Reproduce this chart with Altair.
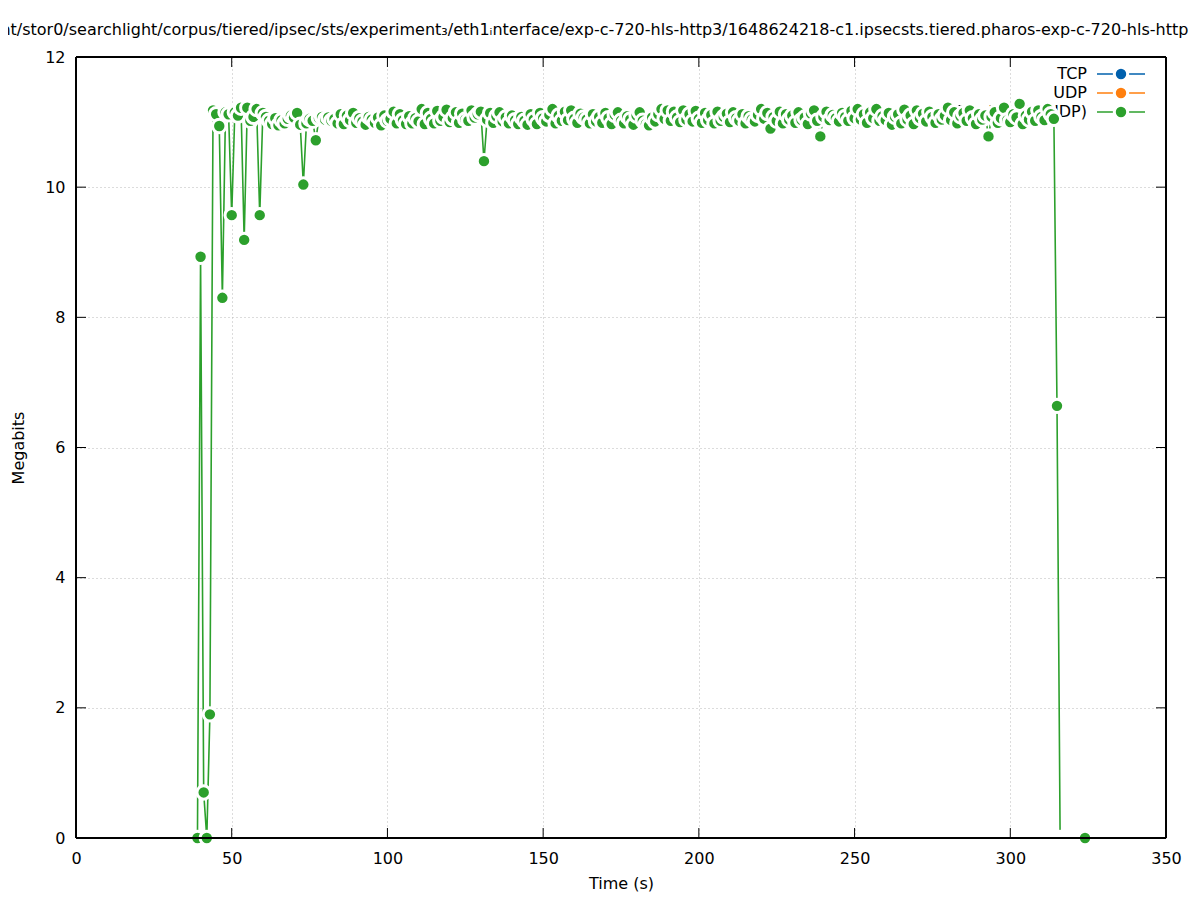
import altair as alt
import pandas as pd

# ---- data ----
time_s = [
    39, 40, 41, 42, 43, 44, 45, 46, 47, 48, 49,
    50, 51, 52, 53, 54, 55, 56, 57, 58, 59,
    60, 61, 62, 63, 64, 65, 66, 67, 68, 69,
    70, 71, 72, 73, 74, 75, 76, 77, 78, 79,
    80, 81, 82, 83, 84, 85, 86, 87, 88, 89,
    90, 91, 92, 93, 94, 95, 96, 97, 98, 99,
    100, 101, 102, 103, 104, 105, 106, 107, 108, 109,
    110, 111, 112, 113, 114, 115, 116, 117, 118, 119,
    120, 121, 122, 123, 124, 125, 126, 127, 128, 129,
    130, 131, 132, 133, 134, 135, 136, 137, 138, 139,
    140, 141, 142, 143, 144, 145, 146, 147, 148, 149,
    150, 151, 152, 153, 154, 155, 156, 157, 158, 159,
    160, 161, 162, 163, 164, 165, 166, 167, 168, 169,
    170, 171, 172, 173, 174, 175, 176, 177, 178, 179,
    180, 181, 182, 183, 184, 185, 186, 187, 188, 189,
    190, 191, 192, 193, 194, 195, 196, 197, 198, 199,
    200, 201, 202, 203, 204, 205, 206, 207, 208, 209,
    210, 211, 212, 213, 214, 215, 216, 217, 218, 219,
    220, 221, 222, 223, 224, 225, 226, 227, 228, 229,
    230, 231, 232, 233, 234, 235, 236, 237, 238, 239,
    240, 241, 242, 243, 244, 245, 246, 247, 248, 249,
    250, 251, 252, 253, 254, 255, 256, 257, 258, 259,
    260, 261, 262, 263, 264, 265, 266, 267, 268, 269,
    270, 271, 272, 273, 274, 275, 276, 277, 278, 279,
    280, 281, 282, 283, 284, 285, 286, 287, 288, 289,
    290, 291, 292, 293, 294, 295, 296, 297, 298, 299,
    300, 301, 302, 303, 304, 305, 306, 307, 308, 309,
    310, 311, 312, 313, 314, 315, 316, 324,
]
megabits = [
    0.00, 8.93, 0.70, 0.00, 1.90, 11.18, 11.12, 10.94, 8.30, 11.15, 11.12,
    9.57, 11.15, 11.10, 11.22, 9.19, 11.22, 11.02, 11.08, 11.20, 9.57,
    11.14, 11.08, 11.02, 10.97, 11.06, 10.95, 11.03, 10.98, 11.05, 11.10,
    11.07, 11.14, 10.96, 10.04, 10.98, 11.05, 11.02, 10.72, 11.06, 11.08,
    11.04, 11.07, 11.02, 11.05, 10.98, 11.12, 10.97, 11.10, 11.03, 11.14,
    10.99, 11.06, 11.01, 10.96, 11.08, 11.04, 10.99, 11.07, 10.95, 11.10,
    11.02, 11.05, 11.16, 10.98, 11.12, 11.03, 10.97, 11.09, 10.98, 11.06,
    11.01, 11.20, 10.97, 11.14, 11.05, 10.98, 11.17, 11.02, 11.08, 11.19,
    11.00, 11.06, 11.15, 10.99, 11.13, 11.04, 11.02, 11.18, 11.07, 11.12,
    11.16, 10.40, 11.04, 11.14, 10.99, 11.09, 11.15, 11.01, 11.07, 10.98,
    11.10, 11.03, 10.97, 11.08, 11.02, 10.96, 11.12, 11.04, 10.97, 11.14,
    11.06, 11.01, 11.11, 11.20, 10.98, 11.10, 11.02, 11.16, 11.03, 11.18,
    11.05, 10.99, 11.13, 11.07, 11.04, 10.98, 11.12, 11.01, 11.08, 10.99,
    11.14, 11.06, 10.97, 11.11, 11.15, 11.02, 10.98, 11.09, 11.04, 10.96,
    11.10, 11.15, 11.02, 10.97, 10.95, 11.07, 11.01, 11.12, 11.20, 11.05,
    11.18, 11.02, 11.16, 11.07, 11.00, 11.18, 11.04, 11.12, 11.01, 11.17,
    11.05, 10.99, 11.14, 11.03, 11.11, 10.98, 11.16, 11.02, 11.08, 11.13,
    11.00, 11.15, 11.06, 11.02, 11.12, 10.98, 11.09, 11.04, 11.01, 11.11,
    11.20, 11.05, 11.14, 10.90, 11.08, 11.02, 11.16, 10.98, 11.12, 11.04,
    11.10, 10.99, 11.15, 11.03, 11.07, 10.97, 11.13, 11.18, 11.02, 10.78,
    11.08, 11.16, 11.03, 11.11, 11.06, 11.01, 11.14, 11.08, 11.02, 11.17,
    11.06, 11.20, 11.04, 11.12, 10.99, 11.15, 11.06, 11.20, 11.02, 11.09,
    11.03, 11.14, 10.96, 11.08, 11.12, 10.98, 11.19, 11.04, 11.10, 10.97,
    11.18, 11.06, 11.13, 11.01, 11.16, 11.08, 10.99, 11.12, 11.04, 11.10,
    11.22, 11.03, 11.15, 10.98, 11.09, 11.14, 11.02, 11.18, 11.06, 10.97,
    11.12, 11.04, 11.10, 10.78, 11.08, 11.15, 10.99, 11.06, 11.22, 11.03,
    11.00, 11.12, 11.07, 11.28, 10.97, 11.10, 11.04, 11.16, 11.02, 11.18,
    11.08, 11.03, 11.20, 11.12, 11.05, 6.64, 0.00, 0.00,
]
# 1 = a green marker is drawn at the sample, 0 = only the marker's white gap
has_marker = [1] * 277 + [0, 1]

x_ticks = [0, 50, 100, 150, 200, 250, 300, 350]
y_ticks = [0, 2, 4, 6, 8, 10, 12]

legend_labels = ["TCP", "UDP", "Total (TCP+UDP)"]
legend_colors = ["#0060ad", "#ff7f0e", "#2ca02c"]

title_text = ("/mnt/stor0/searchlight/corpus/tiered/ipsec/sts/experiment\u2083/"
              "eth1\u1d62nterface/exp-c-720-hls-http3/1648624218-c1.ipsecsts."
              "tiered.pharos-exp-c-720-hls-http3.pcap")

# ---- layout ----
W, H = 1090, 781
FONT = "DejaVu Sans"
FS = 16
GREEN = legend_colors[2]

df = pd.DataFrame({"t": time_s, "v": megabits, "m": has_marker})
xt = pd.DataFrame({"t": x_ticks})
yt = pd.DataFrame({"v": y_ticks})
leg = pd.DataFrame({
    "label": legend_labels,
    "color": legend_colors,
    "py": [17 + 19 * i for i in range(len(legend_labels))],
})

xscale = alt.Scale(domain=[0, 350], nice=False, zero=False)
yscale = alt.Scale(domain=[0, 12], nice=False, zero=False)

x_axis = alt.Axis(values=x_ticks, title="Time (s)", grid=True, ticks=False,
                  domain=False, labelPadding=12, titlePadding=9,
                  labelFlush=False, format="d")
y_axis = alt.Axis(values=y_ticks, title="Megabits", grid=True, ticks=False,
                  domain=False, labelPadding=11, titlePadding=18,
                  labelFlush=False, format="d")

line = alt.Chart(df).mark_line(color=GREEN, strokeWidth=1.6).encode(
    x=alt.X("t:Q", scale=xscale, axis=x_axis),
    y=alt.Y("v:Q", scale=yscale, axis=y_axis),
    order="t:Q",
)
points = alt.Chart(df).mark_point(
    shape="circle", filled=True, size=180, stroke="white",
    strokeWidth=3, opacity=1,
).encode(
    x=alt.X("t:Q", scale=xscale),
    y=alt.Y("v:Q", scale=yscale),
    fill=alt.condition("datum.m == 1", alt.value(GREEN), alt.value("white")),
    order="t:Q",
)

tick_style = dict(color="black", strokeWidth=1)
ytl = alt.Chart(yt).mark_rule(**tick_style).encode(
    y=alt.Y("v:Q", scale=yscale), x=alt.value(0), x2=alt.value(10))
ytr = alt.Chart(yt).mark_rule(**tick_style).encode(
    y=alt.Y("v:Q", scale=yscale), x=alt.value(W - 10), x2=alt.value(W))
xtb = alt.Chart(xt).mark_rule(**tick_style).encode(
    x=alt.X("t:Q", scale=xscale), y=alt.value(H), y2=alt.value(H - 10))
xtt = alt.Chart(xt).mark_rule(**tick_style).encode(
    x=alt.X("t:Q", scale=xscale), y=alt.value(0), y2=alt.value(10))

# plot border drawn on top of the data (as gnuplot does)
b_top = alt.Chart(xt).mark_rule(**tick_style).encode(
    x=alt.value(0), x2=alt.value(W), y=alt.value(0))
b_bot = alt.Chart(xt).mark_rule(**tick_style).encode(
    x=alt.value(0), x2=alt.value(W), y=alt.value(H))
b_left = alt.Chart(xt).mark_rule(**tick_style).encode(
    y=alt.value(0), y2=alt.value(H), x=alt.value(0))
b_right = alt.Chart(xt).mark_rule(**tick_style).encode(
    y=alt.value(0), y2=alt.value(H), x=alt.value(W))

legend_text = alt.Chart(leg).mark_text(
    align="right", baseline="middle", font=FONT, fontSize=FS, color="black"
).encode(y=alt.Y("py:Q", scale=None), x=alt.value(1011), text="label:N")
legend_l = alt.Chart(leg).mark_rule(strokeWidth=1.6).encode(
    y=alt.Y("py:Q", scale=None), x=alt.value(1021), x2=alt.value(1069),
    color=alt.Color("color:N", scale=None))
legend_p = alt.Chart(leg).mark_point(
    shape="circle", filled=True, size=180, stroke="white", strokeWidth=3,
    opacity=1,
).encode(y=alt.Y("py:Q", scale=None), x=alt.value(1045),
         fill=alt.Color("color:N", scale=None))

title = alt.Chart(pd.DataFrame({"s": [title_text]})).mark_text(
    align="center", baseline="middle", font=FONT, fontSize=FS, color="black"
).encode(x=alt.value(535), y=alt.value(-27), text="s:N")

chart = alt.layer(
    legend_text, legend_l, legend_p, line, points,
    ytl, ytr, xtb, xtt, b_top, b_bot, b_left, b_right, title
).properties(
    width=W, height=H,
    autosize=alt.AutoSizeParams(type="none"),
    padding={"left": 68, "top": 49, "right": 23, "bottom": 54},
).configure_view(
    strokeWidth=0
).configure_axis(
    labelFont=FONT, labelFontSize=FS, labelColor="black",
    titleFont=FONT, titleFontSize=FS, titleFontWeight="normal", titleColor="black",
    gridColor="#b8b8b8", gridDash=[1, 3], gridWidth=1, gridOpacity=1,
)

chart.save("out.html", embed_options={"renderer": "svg", "actions": False})
